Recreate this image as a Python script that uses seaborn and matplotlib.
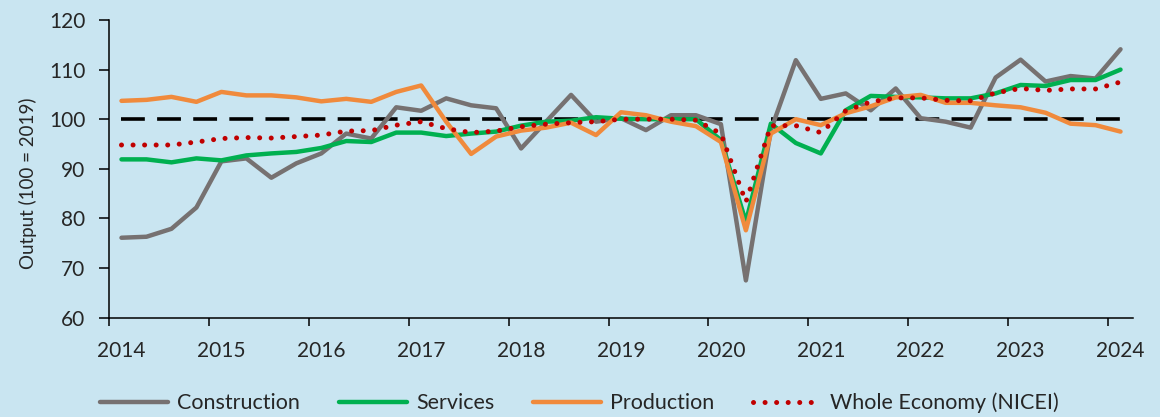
import numpy as np
import pandas as pd
import matplotlib
matplotlib.use('Agg')
import matplotlib.pyplot as plt
import seaborn as sns

# quarterly index values, 41 quarters, labels every 4th quarter
years = ['2014', '2015', '2016', '2017', '2018', '2019', '2020', '2021', '2022', '2023', '2024']
quarters = list(range(41))

construction = [76.1, 76.3, 77.9, 82.2, 91.5, 92.1, 88.2, 91.1, 93.1, 97.1,
                96.1, 102.4, 101.7, 104.2, 102.8, 102.2, 94.1, 99.5, 104.9, 99.5,
                100.2, 97.8, 100.8, 100.8, 99.0, 67.5, 97.8, 111.9, 104.1, 105.2,
                101.8, 106.2, 100.2, 99.5, 98.3, 108.4, 112.0, 107.6, 108.7, 108.2,
                114.1]
services = [91.9, 91.9, 91.3, 92.1, 91.7, 92.7, 93.1, 93.4, 94.2, 95.6,
            95.4, 97.3, 97.3, 96.6, 97.1, 97.5, 98.7, 99.5, 99.7, 100.4,
            100.1, 100.0, 100.0, 100.0, 95.8, 79.3, 99.1, 95.2, 93.1, 101.8,
            104.7, 104.5, 104.4, 104.2, 104.2, 105.2, 106.9, 106.7, 107.9, 107.9,
            110.0]
production = [103.7, 103.9, 104.5, 103.5, 105.5, 104.8, 104.8, 104.4, 103.6, 104.1,
              103.5, 105.5, 106.8, 99.5, 93.0, 96.5, 97.7, 98.3, 99.3, 96.8,
              101.4, 100.8, 99.5, 98.6, 95.4, 77.6, 97.1, 100.0, 98.8, 101.2,
              102.6, 104.4, 104.9, 103.3, 103.3, 102.8, 102.4, 101.3, 99.1, 98.8,
              97.5]
nicei = [94.8, 94.8, 94.8, 95.4, 96.1, 96.3, 96.2, 96.5, 96.8, 97.6,
         97.7, 98.8, 99.5, 98.1, 97.3, 97.6, 98.5, 99.0, 99.3, 99.5,
         100.0, 100.0, 100.0, 99.8, 97.1, 83.3, 98.7, 98.7, 97.3, 101.7,
         103.5, 104.3, 104.3, 103.8, 103.7, 105.3, 106.2, 105.8, 106.1, 106.1,
         107.5]

bg = '#C9E5F1'
sns.set_theme(style='ticks', rc={'axes.facecolor': bg, 'figure.facecolor': bg,
                                 'savefig.facecolor': bg})
plt.rcParams['font.family'] = ['Lato', 'DejaVu Sans']

fig = plt.figure(figsize=(11.6, 4.17), dpi=100)
ax = fig.add_axes([109 / 1160, 1 - 317.6 / 417, 1024 / 1160, 297.6 / 417])

# 2019 = 100 reference
ax.hlines(100, quarters[0], quarters[-1], colors='black', linewidth=2.6,
          linestyles=[(0, (6.6, 3.4))])

sns.lineplot(x=quarters, y=construction, color='#767171', linewidth=3.2, ax=ax, label='Construction')
sns.lineplot(x=quarters, y=services, color='#00B050', linewidth=3.2, ax=ax, label='Services')
sns.lineplot(x=quarters, y=production, color='#F08A3C', linewidth=3.2, ax=ax, label='Production')
sns.lineplot(x=quarters, y=nicei, color='#C00000', linewidth=3.6, ax=ax,
             linestyle=(0, (0.01, 2.3)), dash_capstyle='round', label='Whole Economy (NICEI)')

ax.set_xlim(-0.5, 40.5)
ax.set_ylim(60, 120)
ax.set_yticks(range(60, 121, 10))
ax.set_xticks(np.arange(-0.5, 40, 4))
ax.set_xticklabels([])
ax.set_xticks(np.arange(0, 41, 4), minor=True)
ax.set_xticklabels(years, minor=True)
ax.tick_params(axis='x', which='major', length=6, width=1.1, color='black')
ax.tick_params(axis='x', which='minor', length=0, pad=17, labelsize=15)
ax.tick_params(axis='y', length=7, width=1.1, color='black', pad=10, labelsize=15)
ax.set_xlabel('')
ax.set_ylabel('')
for s in ['top', 'right']:
    ax.spines[s].set_visible(False)
for s in ['left', 'bottom']:
    ax.spines[s].set_color('black')
    ax.spines[s].set_linewidth(1.1)

fig.text(28 / 1160, 1 - 183 / 417, 'Output (100 = 2019)', rotation=90,
         ha='center', va='center', fontsize=13.5)

handles, labels = ax.get_legend_handles_labels()
if ax.get_legend() is not None:
    ax.get_legend().remove()
fig.legend(handles, labels, loc='center', bbox_to_anchor=(0.4995, 0.034), ncol=4,
           frameon=False, fontsize=15.5, handlelength=3.16, handletextpad=0.42,
           columnspacing=1.8)

fig.savefig('out.png', dpi=100)
